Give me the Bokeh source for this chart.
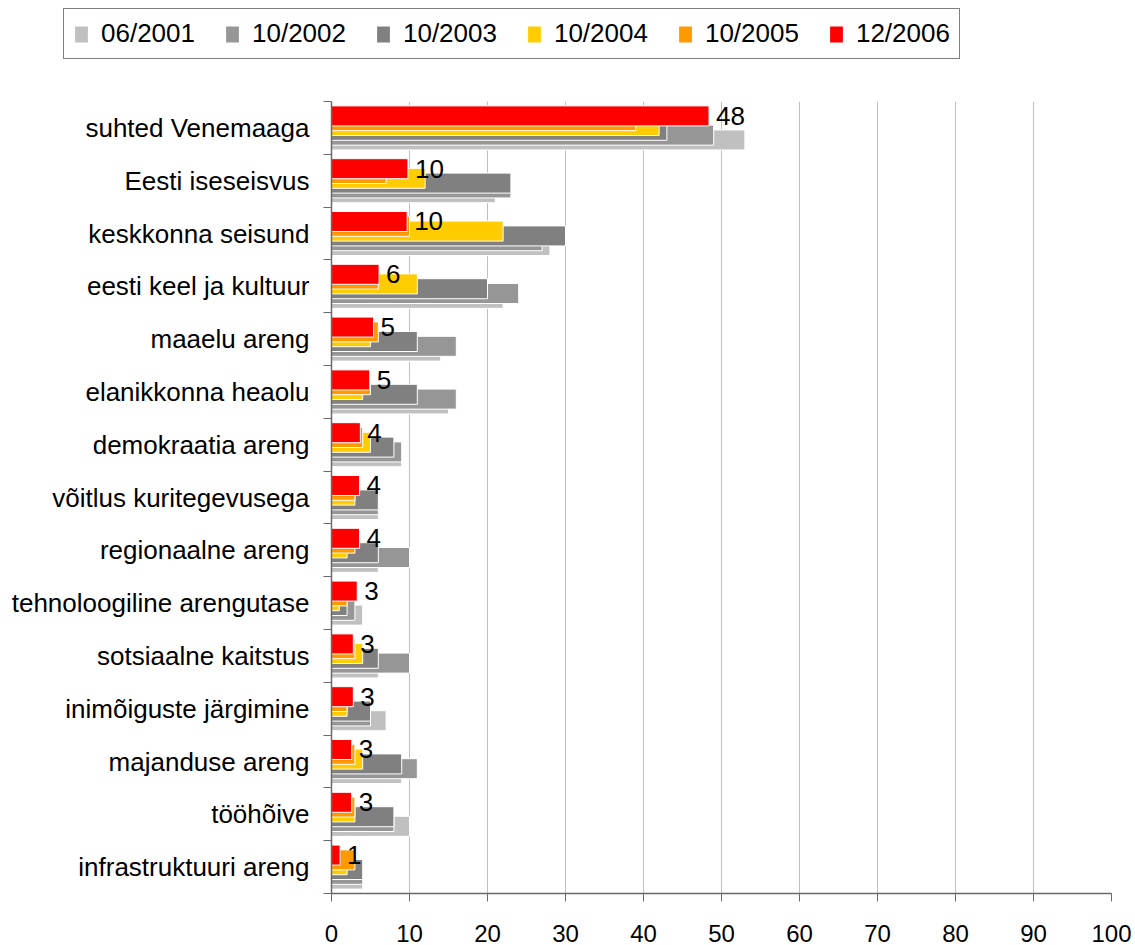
from bokeh.plotting import figure
from bokeh.layouts import column
from bokeh.models import Range1d, FixedTicker, Legend, LegendItem, ColumnDataSource
from bokeh.core.properties import value
from bokeh.embed import file_html
from bokeh.resources import INLINE

categories = [
    "suhted Venemaaga", "Eesti iseseisvus", "keskkonna seisund",
    "eesti keel ja kultuur", "maaelu areng", "elanikkonna heaolu",
    "demokraatia areng", "võitlus kuritegevusega", "regionaalne areng",
    "tehnoloogiline arengutase", "sotsiaalne kaitstus",
    "inimõiguste järgimine", "majanduse areng", "tööhõive",
    "infrastruktuuri areng",
]
series_names = ["06/2001", "10/2002", "10/2003", "10/2004", "10/2005", "12/2006"]
v_2001_06 = [53, 21, 28, 22, 14, 15, 9, 6, 6, 4, 6, 7, 9, 10, 4]
v_2002_10 = [49, 23, 27, 24, 16, 16, 9, 6, 10, 3, 10, 5, 11, 8, 4]
v_2003_10 = [43, 23, 30, 20, 11, 11, 8, 6, 6, 2, 6, 5, 9, 8, 4]
v_2004_10 = [42, 12, 22, 11, 5, 4, 5, 3, 2, 1, 4, 2, 4, 3, 2]
v_2005_10 = [39, 7, 10, 6, 6, 5, 4, 3, 3, 2, 3, 2, 3, 3, 3]
v_2006_12 = [48.4, 9.8, 9.7, 6.1, 5.4, 4.9, 3.7, 3.6, 3.6, 3.3, 2.8, 2.8, 2.6, 2.6, 1.1]
series_values = [v_2001_06, v_2002_10, v_2003_10, v_2004_10, v_2005_10, v_2006_12]
colors = ["#C0C0C0", "#969696", "#808080", "#FFCC00", "#FF9900", "#FF0000"]
x_ticks = [0, 10, 20, 30, 40, 50, 60, 70, 80, 90, 100]

FONT = "Liberation Sans"
AXIS_COLOR = "#6a6a6a"
W = 1135
LEG_H = 70
n = len(categories)
pos = [n - 1 - i for i in range(n)]
bar_h = 0.379
step = 0.091

# ---------- legend strip ----------
lg = figure(width=W, height=LEG_H, x_range=Range1d(0, 1), y_range=Range1d(0, 1),
            output_backend="svg", toolbar_location=None,
            x_axis_location=None, y_axis_location=None,
            min_border_left=0, min_border_right=0, min_border_top=0,
            min_border_bottom=0)
lg.frame_align = False
lg.outline_line_color = None
lg.xgrid.grid_line_color = None
lg.ygrid.grid_line_color = None

items = []
for k, name in enumerate(series_names):
    # swatch renderers sit outside the visible range; only their legend glyph shows
    src = ColumnDataSource(dict(y=[-5], right=[0]))
    r = lg.hbar(y="y", right="right", left=0, height=0.5, source=src,
                fill_color=colors[k], line_color=None)
    items.append(LegendItem(label=name, renderers=[r]))

legend = Legend(items=items, orientation="horizontal", location=(63, 11))
legend.margin = 0
legend.padding = 9
legend.spacing = 29
legend.glyph_width = 16
legend.glyph_height = 20
legend.label_standoff = 12
legend.label_text_font = FONT
legend.label_text_font_size = "26px"
legend.label_text_color = "black"
legend.border_line_color = "black"
legend.border_line_width = 1
legend.background_fill_color = "white"
legend.background_fill_alpha = 1
lg.add_layout(legend)

# ---------- main chart ----------
p = figure(width=W, height=945 - LEG_H, x_range=Range1d(0, 100),
           y_range=Range1d(-0.5, n - 0.5), output_backend="svg",
           toolbar_location=None, min_border_left=331, min_border_right=24,
           min_border_top=101 - LEG_H, min_border_bottom=52)
p.frame_align = False
p.outline_line_color = None
p.background_fill_color = "white"
p.ygrid.grid_line_color = None
p.xgrid.grid_line_color = "#C0C0C0"
p.xgrid.grid_line_width = 1

p.xaxis.ticker = FixedTicker(ticks=x_ticks)
p.xaxis.major_tick_out = 8
p.xaxis.major_tick_in = 0
p.xaxis.minor_tick_line_color = None
p.xaxis.axis_line_color = AXIS_COLOR
p.xaxis.axis_line_width = 1.5
p.xaxis.major_tick_line_color = AXIS_COLOR
p.xaxis.major_label_text_font = FONT
p.xaxis.major_label_text_font_size = "24px"
p.xaxis.major_label_text_color = "black"
p.xaxis.major_label_text_line_height = 0.75
p.xaxis.major_label_standoff = 23

p.yaxis.ticker = FixedTicker(ticks=pos, minor_ticks=[k - 0.5 for k in range(n + 1)])
p.yaxis.major_label_overrides = {pos[i]: categories[i] for i in range(n)}
p.yaxis.major_tick_out = 0
p.yaxis.major_tick_in = 0
p.yaxis.major_tick_line_color = None
p.yaxis.minor_tick_out = 8
p.yaxis.minor_tick_in = 0
p.yaxis.minor_tick_line_color = AXIS_COLOR
p.yaxis.axis_line_color = AXIS_COLOR
p.yaxis.axis_line_width = 1.5
p.yaxis.major_label_text_font = FONT
p.yaxis.major_label_text_font_size = "26px"
p.yaxis.major_label_text_color = "black"
p.yaxis.major_label_standoff = 14

for k, vals in enumerate(series_values):
    src = ColumnDataSource(dict(
        y=[pos[i] + (k - 2.5) * step for i in range(n)],
        right=vals,
    ))
    p.hbar(y="y", right="right", left=0, height=bar_h, source=src,
           fill_color=colors[k], line_color="white", line_width=1)

last = series_values[-1]
lab_src = ColumnDataSource(dict(
    x=last,
    y=[pos[i] + 2.5 * step for i in range(n)],
    t=[str(int(v + 0.5)) for v in last],
))
p.text(x="x", y="y", text="t", source=lab_src, x_offset=7,
       text_baseline="middle", text_align="left",
       text_font=value(FONT), text_font_size="26px", text_color="black")

layout = column(lg, p, spacing=0)
open("out.html", "w").write(file_html(layout, INLINE))
